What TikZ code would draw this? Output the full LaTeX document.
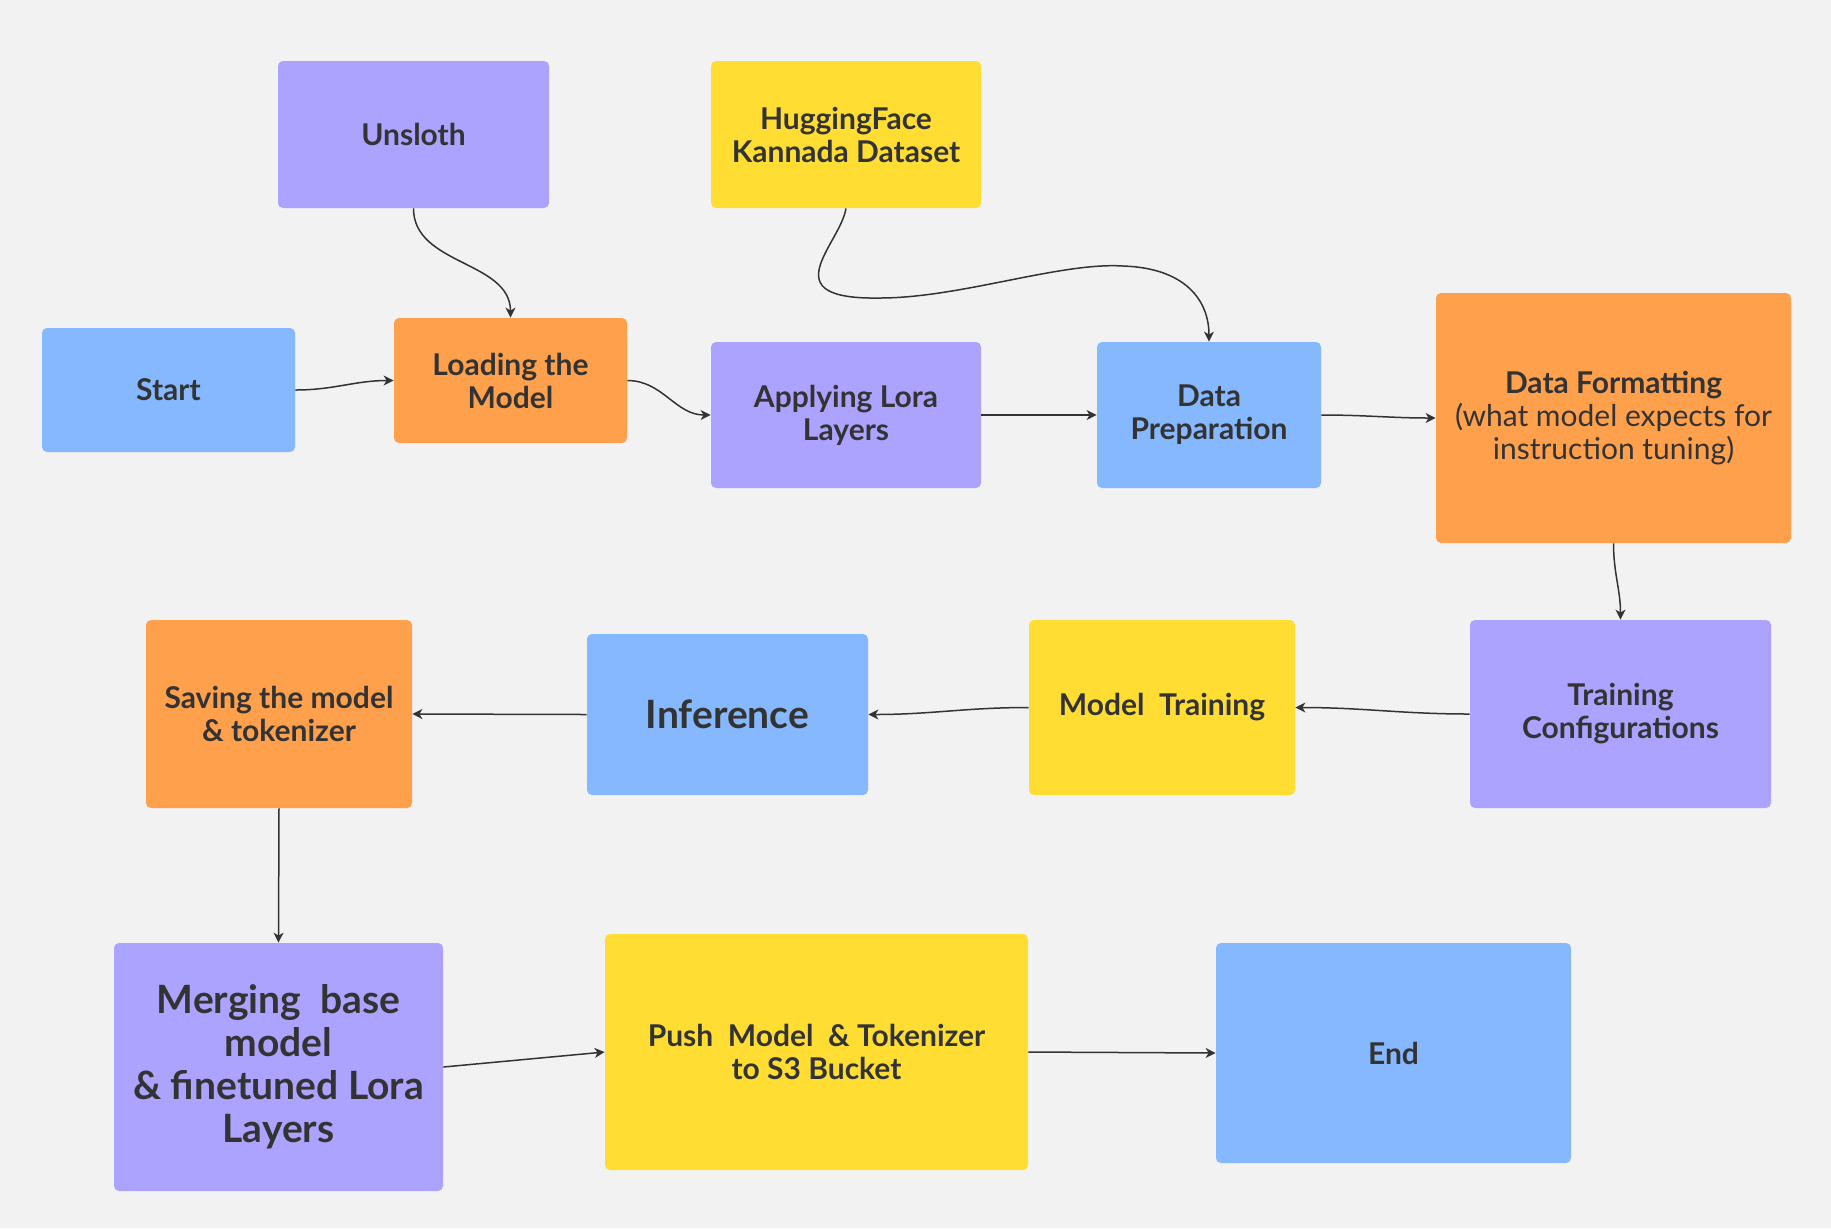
\documentclass[tikz,border=0pt]{standalone}
\usepackage{fontspec}
\setmainfont{Lato}
\usetikzlibrary{arrows.meta}
\definecolor{bg}{HTML}{F2F2F2}
\definecolor{cpurple}{HTML}{ABA3FF}
\definecolor{cblue}{HTML}{85B8FF}
\definecolor{corange}{HTML}{FFA04D}
\definecolor{cyellow}{HTML}{FFDD33}
\definecolor{ctext}{HTML}{333333}
\definecolor{cline}{HTML}{333333}
\begin{document}
\begin{tikzpicture}[x=0.5pt,y=-0.5pt,
  box/.style={rounded corners=2.5pt, inner sep=0pt, align=center, text=ctext,
    font=\bfseries\fontsize{15}{16.5}\selectfont},
  bigbox/.style={box, font=\bfseries\fontsize{19.5}{21.5}\selectfont},
  conn/.style={draw=cline, line width=0.75pt, -{Stealth[length=5pt,width=5pt,inset=1.5pt]}}]
\fill[bg] (0,0) rectangle (1831,1228);
\useasboundingbox (0,0) rectangle (1831,1228);

\node[box, fill=cpurple, minimum width=135.5pt, minimum height=73.5pt] (unsloth) at (413.5,134.5) {Unsloth};
\node[box, fill=cyellow, minimum width=135pt, minimum height=73.5pt] (hf) at (846,134.5) {HuggingFace\\Kannada Dataset};
\node[box, fill=cblue, minimum width=126.5pt, minimum height=62pt] (start) at (168.5,390) {Start};
\node[box, fill=corange, minimum width=116.5pt, minimum height=62.5pt] (load) at (510.5,380.5) {Loading the\\Model};
\node[box, fill=cpurple, minimum width=135pt, minimum height=73pt] (apply) at (846,415) {Applying Lora\\Layers};
\node[box, fill=cblue, minimum width=112pt, minimum height=73pt] (prep) at (1209,415) {Data\\Preparation};
\node[box, fill=corange, minimum width=177.5pt, minimum height=125pt] (fmt) at (1613.5,418) {Data Formatting\\{\mdseries(what model expects for}\\{\mdseries instruction tuning)}};
\node[box, fill=cpurple, minimum width=150.5pt, minimum height=94pt] (cfg) at (1620.5,714) {Training\\Configurations};
\node[box, fill=cyellow, minimum width=133pt, minimum height=87.5pt] (train) at (1162,707.5) {Model~ Training};
\node[bigbox, fill=cblue, minimum width=140.5pt, minimum height=80.5pt] (inf) at (727.5,714.5) {Inference};
\node[box, fill=corange, minimum width=133pt, minimum height=94pt] (save) at (279,714) {Saving the model\\\& tokenizer};
\node[bigbox, fill=cpurple, minimum width=164.5pt, minimum height=124pt] (merge) at (278.5,1067) {Merging~ base\\model\\\& finetuned Lora\\Layers};
\node[box, fill=cyellow, minimum width=211.5pt, minimum height=118pt] (push) at (816.5,1052) {Push~ Model~ \& Tokenizer\\to S3 Bucket};
\node[box, fill=cblue, minimum width=177.5pt, minimum height=110pt] (end) at (1393.5,1053) {End};

\draw[conn] (unsloth.south) to[out=-90,in=90] (load.north);
\draw[conn] (hf.south) .. controls (840,245) and (770,300) .. (880,298)
  .. controls (960,298) and (1060,262) .. (1123,266)
  .. controls (1185,268) and (1209,300) .. (prep.north);
\draw[conn] (start.east) to[out=0,in=180] (load.west);
\draw[conn] (load.east) to[out=0,in=180] (apply.west);
\draw[conn] (apply.east) -- (prep.west);
\draw[conn] (prep.east) to[out=0,in=180] (fmt.west);
\draw[conn] (fmt.south) to[out=-90,in=90] (cfg.north);
\draw[conn] (cfg.west) to[out=180,in=0] (train.east);
\draw[conn] (train.west) to[out=180,in=0] (inf.east);
\draw[conn] (inf.west) -- (save.east);
\draw[conn] (save.south) -- (merge.north);
\draw[conn] (merge.east) -- (push.west);
\draw[conn] (push.east) -- (end.west);
\end{tikzpicture}
\end{document}
